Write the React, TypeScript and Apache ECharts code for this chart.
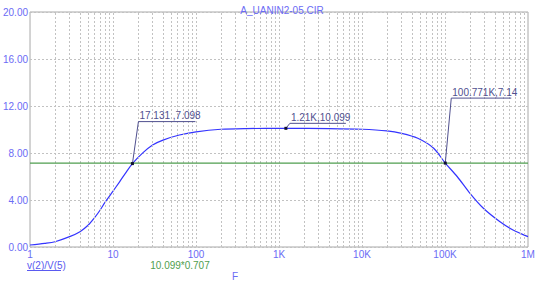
import React, { useEffect, useRef } from "react";
import * as echarts from "echarts";

// Frequency response
const freqs = [1, 1.5, 2, 3, 4, 5, 6, 7, 8, 10, 12, 14.5, 17.131, 23, 30, 40, 63, 100, 200, 400, 1210, 4000, 10000, 20000, 30000, 47000, 73000, 100771, 140000, 200000, 290000, 460000, 660000, 1000000];
const gains = [0.17, 0.31, 0.45, 0.88, 1.3, 1.85, 2.5, 3.15, 3.8, 4.75, 5.55, 6.4, 7.098, 8.03, 8.68, 9.1, 9.53, 9.8, 10.02, 10.08, 10.099, 10.08, 10.02, 9.88, 9.67, 9.25, 8.4, 7.14, 6.0, 4.57, 3.3, 2.15, 1.45, 0.88];

const xTickLabels = ["1", "10", "100", "1K", "10K", "100K", "1M"];
const minorMultipliers = [2, 3, 4, 5, 6, 7, 8, 9];
const decades = [1, 10, 100, 1000, 10000, 100000];

const refLevel = 10.099 * 0.707;

const annotFreqs = [17.131, 1210, 100771];
const annotValues = [7.098, 10.099, 7.14];
const annotLabels = ["17.131 ,7.098", "1.21K,10.099", "100.771K,7.14"];
// leader layout (pixels): elbow offset and horizontal length
const annotLayout = [
  { dx: 6, dy: -42, len: 57 },
  { dx: 4, dy: -5, len: 56 },
  { dx: 6, dy: -65, len: 60 },
];

const labelBlue = "#6b6bf5";
const curveBlue = "#3434ff";
const green = "#4f9e4f";
const gridGray = "#c2c2c2";
const annotColor = "#50508f";
const font = "Liberation Sans, Arial, sans-serif";

export default function App() {
  const ref = useRef<HTMLDivElement>(null);
  useEffect(() => {
    document.body.style.margin = "0";
    if (!ref.current) return;
    const chart = echarts.init(ref.current, undefined, { renderer: "svg" });

    const vLines: any[] = [];
    decades.forEach((d, i) => {
      if (i > 0) vLines.push({ xAxis: d });
      minorMultipliers.forEach((m) => vLines.push({ xAxis: d * m }));
    });

    chart.setOption({
      animation: false,
      title: {
        text: "A_UANIN2-05.CIR",
        left: 277,
        textAlign: "center",
        top: 0,
        textStyle: { fontSize: 10, fontWeight: "normal", color: labelBlue, fontFamily: font },
      },
      grid: { left: 26, right: 25, top: 12, bottom: 38, show: true, borderColor: "#a8a8a8", borderWidth: 1 },
      xAxis: {
        type: "log",
        logBase: 10,
        min: 1,
        max: 1000000,
        axisLine: { show: false },
        axisTick: { show: false },
        splitLine: { show: false },
        axisLabel: {
          margin: 2,
          color: labelBlue,
          fontSize: 10,
          lineHeight: 10,
          fontFamily: font,
          formatter: (v: number) => xTickLabels[Math.round(Math.log10(v))] ?? "",
        },
      },
      yAxis: {
        type: "value",
        min: 0,
        max: 20,
        interval: 4,
        axisLine: { show: false },
        axisTick: { show: false },
        splitLine: { show: true, lineStyle: { color: gridGray, type: [2, 2], width: 1 } },
        axisLabel: {
          margin: 2,
          color: labelBlue,
          fontSize: 10,
          fontFamily: font,
          formatter: (v: number) => v.toFixed(2),
        },
      },
      series: [
        {
          type: "line",
          data: [],
          z: 1,
          silent: true,
          markLine: {
            silent: true,
            symbol: "none",
            label: { show: false },
            lineStyle: { color: gridGray, type: [2, 2], width: 1 },
            data: vLines,
          },
        },
        {
          type: "line",
          data: freqs.map((f, i) => [f, gains[i]]),
          smooth: 0.3,
          showSymbol: false,
          z: 3,
          color: curveBlue,
          lineStyle: { color: curveBlue, width: 1.2 },
        },
      ],
    });

    const graphics: any[] = [];
    // reference level line (10.099*0.707) in green
    const pl = chart.convertToPixel({ xAxisIndex: 0, yAxisIndex: 0 }, [1, refLevel]) as number[];
    const pr = chart.convertToPixel({ xAxisIndex: 0, yAxisIndex: 0 }, [1000000, refLevel]) as number[];
    graphics.push({
      type: "line",
      z: 5,
      shape: { x1: pl[0], y1: pl[1], x2: pr[0], y2: pr[1] },
      style: { stroke: green, lineWidth: 1.2 },
    });
    annotFreqs.forEach((f, i) => {
      const p = chart.convertToPixel({ xAxisIndex: 0, yAxisIndex: 0 }, [f, annotValues[i]]) as number[];
      const L = annotLayout[i];
      const ex = p[0] + L.dx;
      const ey = p[1] + L.dy;
      graphics.push({
        type: "polyline",
        z: 10,
        shape: { points: [[p[0], p[1]], [ex, ey], [ex + L.len, ey]] },
        style: { stroke: annotColor, lineWidth: 1, fill: "none" },
      });
      graphics.push({
        type: "rect",
        z: 11,
        shape: { x: p[0] - 1.5, y: p[1] - 1.5, width: 3, height: 3 },
        style: { fill: "#101030" },
      });
      graphics.push({
        type: "text",
        z: 11,
        style: {
          text: annotLabels[i],
          x: ex + 1,
          y: ey - 1,
          align: "left",
          verticalAlign: "bottom",
          fill: annotColor,
          font: `10px ${font}`,
        },
      });
    });
    // bottom legend texts
    graphics.push({
      type: "text",
      style: { text: "v(2)/V(5)", x: 27, y: 265, verticalAlign: "middle", fill: "#5a5af0", font: `10px ${font}`, lineHeight: 10 },
    });
    graphics.push({
      type: "line",
      shape: { x1: 27, y1: 270.5, x2: 61, y2: 270.5 },
      style: { stroke: "#5a5af0", lineWidth: 1 },
    });
    graphics.push({
      type: "text",
      style: { text: "10.099*0.707", x: 180, y: 265, align: "center", verticalAlign: "middle", fill: green, font: `10px ${font}`, lineHeight: 10 },
    });
    graphics.push({
      type: "text",
      style: { text: "F", x: 235, y: 276, align: "center", verticalAlign: "middle", fill: labelBlue, font: `10px ${font}`, lineHeight: 10 },
    });
    chart.setOption({ graphic: graphics });

    return () => chart.dispose();
  }, []);
  return <div ref={ref} style={{ width: 553, height: 285 }} />;
}
